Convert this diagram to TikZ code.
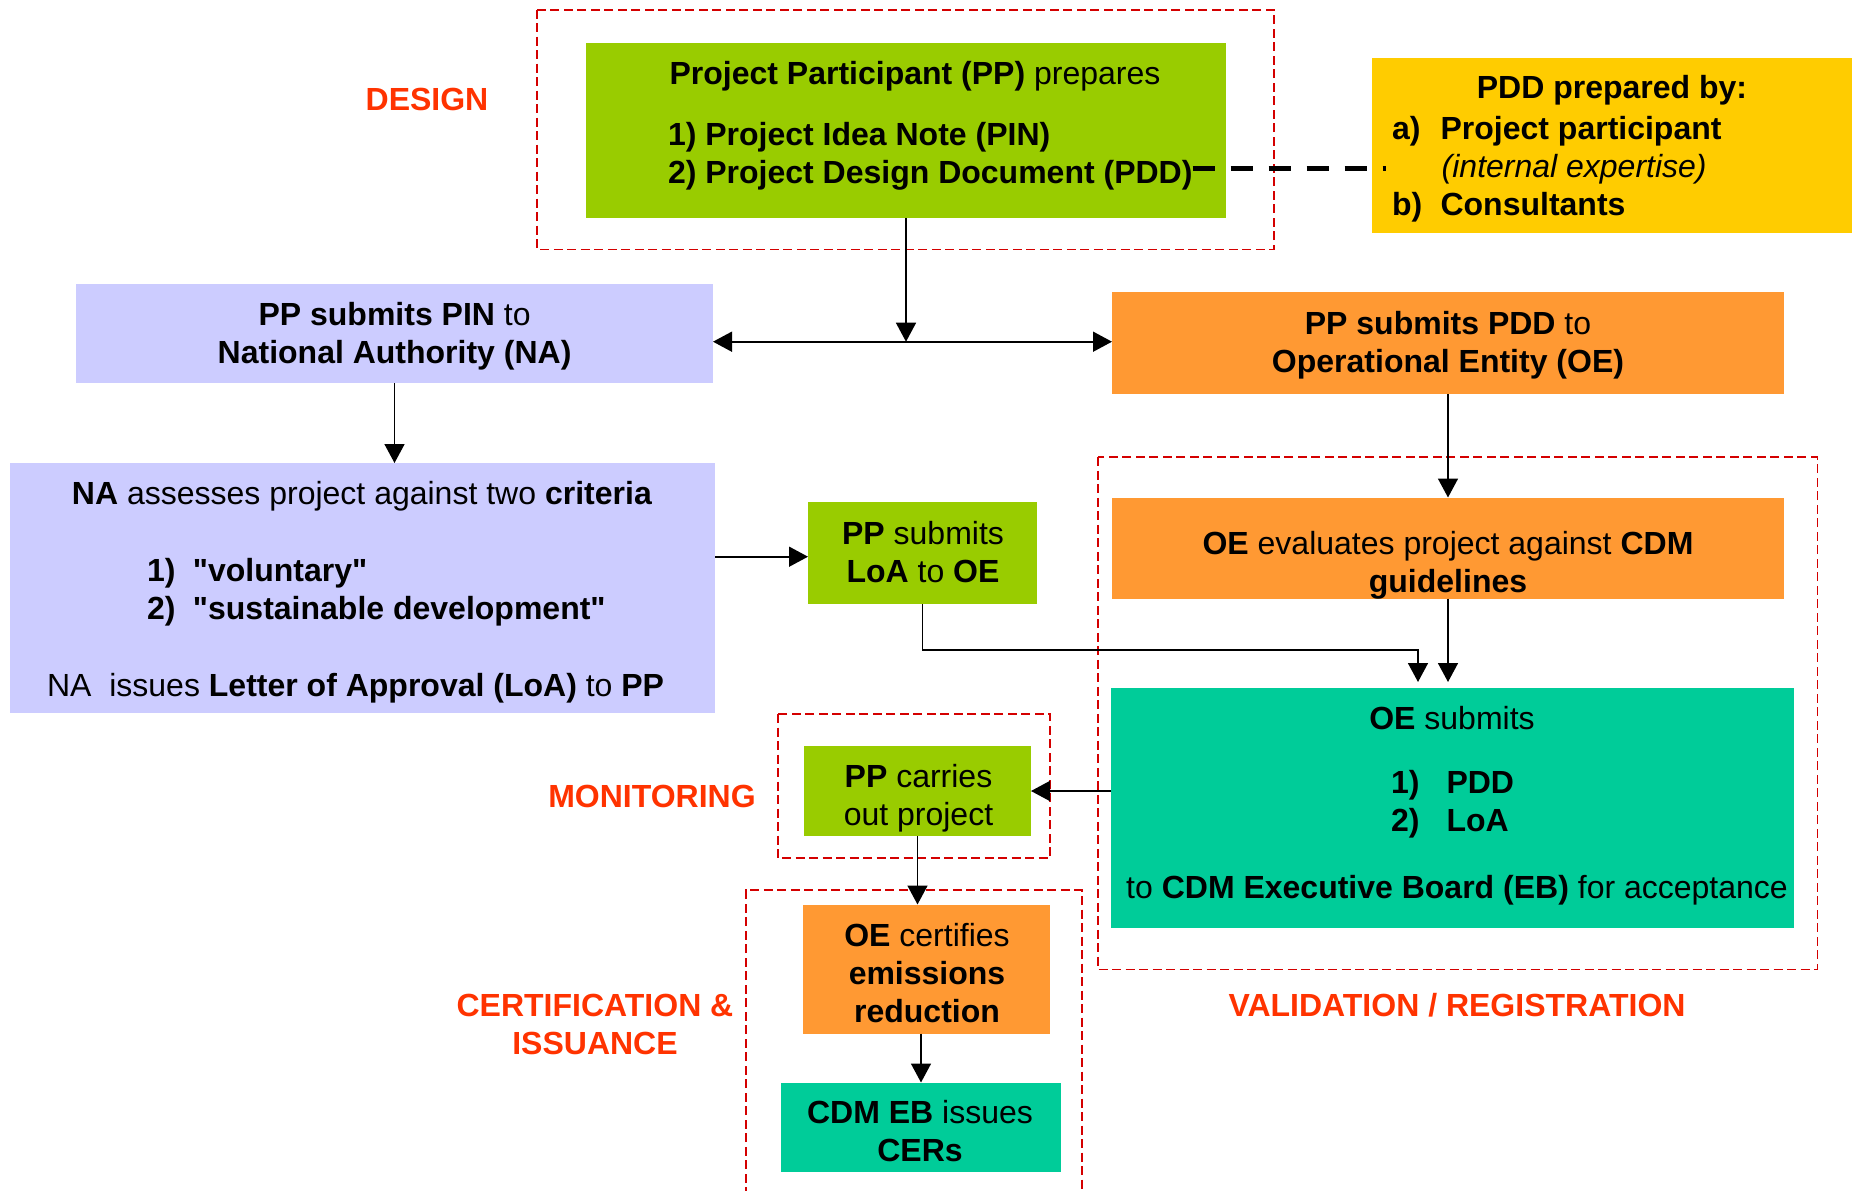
\documentclass[tikz,border=0pt]{standalone}
\usepackage{fontspec}
\setmainfont{Liberation Sans}
\usetikzlibrary{arrows.meta}
\definecolor{cgreen}{HTML}{99CC00}
\definecolor{clav}{HTML}{CCCCFF}
\definecolor{corange}{HTML}{FF9933}
\definecolor{cyellow}{HTML}{FFCC00}
\definecolor{cteal}{HTML}{00CC99}
\definecolor{clabel}{HTML}{FF3300}
\definecolor{cdash}{HTML}{D40000}
\newcommand\fsz{\fontsize{32pt}{38pt}\selectfont}
\newcommand\qq{\textquotedbl}
\begin{document}
\begin{tikzpicture}[x=1pt,y=-1pt,
  fillbox/.style={inner sep=0pt, outer sep=0pt, draw=none},
  txt/.style={inner sep=0pt, outer sep=0pt, font=\fsz, align=center},
  ltxt/.style={inner sep=0pt, outer sep=0pt, font=\fsz, align=left},
  phase/.style={txt, text=clabel, font=\fsz\bfseries},
  zone/.style={draw=cdash, line width=1.8pt, dash pattern=on 9pt off 4.5pt},
  conn/.style={line width=1.6pt, -{Triangle[length=19pt,width=20pt]}},
]
\useasboundingbox (0,0) rectangle (1856,1191);
\clip (0,0) rectangle (1856,1191);
\fill[white] (0,0) rectangle (1856,1191);

% phase zones
\draw[zone] (537.3,9.6) rectangle (1273.6,249.5);
\draw[zone] (1097.8,457.3) rectangle (1817.4,969.4);
\draw[zone] (777.7,714) rectangle (1050,858.2);
\draw[zone] (745.6,1250) -- (745.6,890.2) -- (1081.8,890.2) -- (1081.8,1250);

% boxes
\node[fillbox, fill=cgreen, minimum width=640pt, minimum height=175pt] (pp) at (906,130.5) {};
\node[fillbox, fill=cyellow, minimum width=480pt, minimum height=175pt] (yel) at (1612,145.5) {};
\node[fillbox, fill=clav, minimum width=637pt, minimum height=99pt] (pin) at (394.5,333.5) {};
\node[fillbox, fill=corange, minimum width=672pt, minimum height=102pt] (oe1) at (1448,343) {};
\node[fillbox, fill=clav, minimum width=705pt, minimum height=250pt] (na) at (362.5,588) {};
\node[fillbox, fill=cgreen, minimum width=229pt, minimum height=102pt] (loa) at (922.5,553) {};
\node[fillbox, fill=corange, minimum width=672pt, minimum height=101pt] (oeval) at (1448,548) {};
\node[fillbox, fill=cteal, minimum width=683pt, minimum height=240pt] (oesub) at (1452.5,808) {};
\node[fillbox, fill=cgreen, minimum width=227pt, minimum height=90pt] (ppc) at (917.5,791) {};
\node[fillbox, fill=corange, minimum width=247pt, minimum height=129pt] (oec) at (926.5,969) {};
\node[fillbox, fill=cteal, minimum width=280pt, minimum height=89.5pt] (cdm) at (921,1127.25) {};

% texts
\node[txt] (pptitle) at (915,77) {\strut\textbf{Project Participant (PP)} prepares};
\node[ltxt, anchor=west] (pddlist) at (668,157) {\strut\textbf{1) Project Idea Note (PIN)}\\\strut\textbf{2) Project Design Document (PDD)}};
\node[txt] (yeltitle) at (1612,91.3) {\strut\textbf{PDD prepared by:}};
\node[ltxt, anchor=west] (yellist) at (1392,170.2) {\strut\textbf{\makebox[48.6pt][l]{a)}Project participant}\\\strut\hspace*{49.7pt}\textit{(internal expertise)}\\\strut\textbf{\makebox[48.6pt][l]{b)}Consultants}};
\node[txt] (pintxt) at (394.6,336.5) {\strut\textbf{PP submits PIN} to\\\textbf{National Authority (NA)}\strut};
\node[txt] (oe1txt) at (1448,346) {\strut\textbf{PP submits PDD} to\\\textbf{Operational Entity (OE)}\strut};
\node[txt] (natitle) at (362,497.3) {\strut\textbf{NA} assesses project against two \textbf{criteria}};
\node[ltxt, anchor=west] (nalist) at (147,593.2) {\strut\textbf{\makebox[46pt][l]{1)}\qq voluntary\qq}\\\strut\textbf{\makebox[46pt][l]{2)}\qq sustainable development\qq}};
\node[txt] (nalast) at (355.6,688.7) {\strut NA\ \ issues \textbf{Letter of Approval (LoA)} to \textbf{PP}};
\node[txt] (loatxt) at (923,555.5) {\strut\textbf{PP} submits\\\textbf{LoA} to \textbf{OE}\strut};
\node[txt] (oevaltxt) at (1448,566) {\strut\textbf{OE} evaluates project against \textbf{CDM}\\\textbf{guidelines}\strut};
\node[txt] (oesubtitle) at (1452,722.3) {\strut\textbf{OE} submits};
\node[ltxt, anchor=west] (oesublist) at (1391,804.5) {\strut\textbf{\makebox[55.5pt][l]{1)}PDD}\\\strut\textbf{\makebox[55.5pt][l]{2)}LoA}};
\node[txt] (oesublast) at (1457,890.7) {\strut to \textbf{CDM Executive Board (EB)} for acceptance};
\node[txt] (ppctxt) at (918.5,799) {\strut\textbf{PP} carries\\out project\strut};
\node[txt] (oectxt) at (927,976.7) {\strut\textbf{OE} certifies\\\textbf{emissions}\\\textbf{reduction}\strut};
\node[txt] (cdmtxt) at (920,1135.3) {\strut\textbf{CDM EB} issues\\\textbf{CERs}\strut};

% phase labels
\node[phase] (design) at (427,103.1) {\strut DESIGN};
\node[phase] (monitor) at (652,800.3) {\strut MONITORING};
\node[phase] (cert) at (595,1027.7) {\strut CERTIFICATION \&\\ISSUANCE\strut};
\node[phase] (valid) at (1457,1008.7) {\strut VALIDATION / REGISTRATION};

% connectors
\coordinate (j) at (906.7,341.7);
\coordinate (m) at (0,556.7);
\draw[conn] (pp.south) -- (pp.south |- j);
\draw[line width=1.6pt, {Triangle[length=19pt,width=20pt]}-{Triangle[length=19pt,width=20pt]}] (pin.east |- j) -- (oe1.west |- j);
\draw[conn] (pin.south) -- (pin.south |- na.north);
\draw[conn] (na.east |- m) -- (loa.west |- m);
\draw[conn] (oe1.south) -- (oeval.north);
\coordinate (k) at (1418,649.7);
\draw[conn, shorten >=6pt] (loa.south) |- (k) -- (k |- oesub.north);
\draw[conn, shorten >=6pt] (oeval.south) -- (oeval.south |- oesub.north);
\draw[conn] (oesub.west |- ppc.east) -- (ppc.east);
\draw[conn] (ppc.south) -- (ppc.south |- oec.north);
\draw[conn] (cdm.north |- oec.south) -- (cdm.north);
\coordinate (dashend) at (1386,168.4);
\draw[line width=4.5pt, dash pattern=on 22pt off 16pt] (pddlist.east |- dashend) -- (dashend);
\end{tikzpicture}
\end{document}
